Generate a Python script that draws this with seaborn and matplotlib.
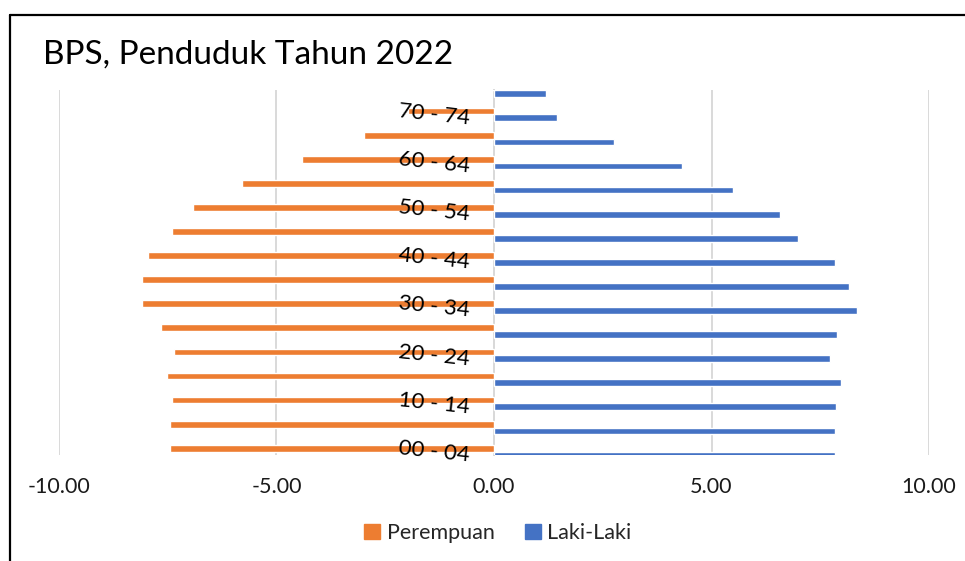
import matplotlib
matplotlib.use("Agg")
import matplotlib.pyplot as plt
import matplotlib.patches as mpatches
from matplotlib.lines import Line2D
import seaborn as sns
import pandas as pd

# ---- data (top to bottom) ----
age_groups = ["75+", "70 - 74", "65 - 69", "60 - 64", "55 - 59", "50 - 54", "45 - 49",
              "40 - 44", "35 - 39", "30 - 34", "25 - 29", "20 - 24", "15 - 19",
              "10 - 14", "05 - 09", "00 - 04"]
perempuan = [-2.02, -1.98, -2.99, -4.41, -5.79, -6.92, -7.40, -7.95, -8.09, -8.09,
             -7.66, -7.36, -7.52, -7.40, -7.45, -7.45]
laki_laki = [1.20, 1.45, 2.76, 4.32, 5.49, 6.57, 6.99, 7.84, 8.16, 8.34,
             7.89, 7.72, 7.98, 7.86, 7.84, 7.84]
shown_labels = ["70 - 74", "60 - 64", "50 - 54", "40 - 44", "30 - 34",
                "20 - 24", "10 - 14", "00 - 04"]
x_ticks = [-10, -5, 0, 5, 10]
title = "BPS, Penduduk Tahun 2022"
series_names = ["Perempuan", "Laki-Laki"]
colors = ["#ED7D31", "#4472C4"]

df = pd.concat([
    pd.DataFrame({"Kelompok": age_groups, "Nilai": perempuan, "Jenis": series_names[0]}),
    pd.DataFrame({"Kelompok": age_groups, "Nilai": laki_laki, "Jenis": series_names[1]}),
])

sns.set_theme(style="white")
plt.rcParams["font.family"] = ["Lato", "DejaVu Sans"]

W, H = 965, 561
fig = plt.figure(figsize=(W / 100, H / 100), dpi=100)
ax = fig.add_axes([59 / W, (H - 455) / H, (929 - 59) / W, (455 - 90) / H])

sns.barplot(data=df, x="Nilai", y="Kelompok", hue="Jenis", order=age_groups,
            hue_order=series_names, palette=colors, orient="h", width=0.56,
            dodge=True, ax=ax, legend=False, saturation=1, errorbar=None)

ax.set_xlim(-10, 10)
ax.set_ylim(len(age_groups) - 1 + 0.14, -0.015)
ax.set_xticks(x_ticks)
ax.set_xticklabels([f"{v:.2f}" for v in x_ticks], fontsize=15.5, color="#1a1a1a")
ax.set_yticks([])

# category labels next to the zero axis, drawn above the bars
for lab in shown_labels:
    ax.annotate(lab, xy=(0, age_groups.index(lab)), xytext=(-17, 0),
                textcoords="offset points", ha="right", va="center",
                rotation=-6, fontsize=16, color="black", zorder=5,
                annotation_clip=False)

ax.grid(axis="x", color="#D9D9D9", linewidth=1.4)
ax.grid(axis="y", visible=False)
ax.set_axisbelow(True)
for s in ["top", "right", "bottom"]:
    ax.spines[s].set_visible(False)
ax.spines["left"].set_position(("data", 0))
ax.spines["left"].set_color("#D9D9D9")
ax.spines["left"].set_linewidth(1.4)
ax.spines["left"].set_zorder(0.5)
ax.tick_params(axis="x", length=0, pad=16)
ax.tick_params(axis="y", length=0)
ax.set_xlabel("")
ax.set_ylabel("")

# title
fig.text(43 / W, (H - 64) / H, title, fontsize=24, color="black",
         ha="left", va="baseline")

# chart border (top & left only visible in crop)
fig.add_artist(Line2D([10 / W, 10 / W], [0, (H - 15) / H], transform=fig.transFigure,
                      color="black", linewidth=1.6))
fig.add_artist(Line2D([10 / W, 1], [(H - 15) / H, (H - 15) / H], transform=fig.transFigure,
                      color="black", linewidth=1.6))

handles = [mpatches.Patch(color=c, label=n) for c, n in zip(colors, series_names)]
fig.legend(handles=handles, loc="center", bbox_to_anchor=(498 / W, (H - 533) / H),
           ncol=2, frameon=False, fontsize=15.5, handlelength=0.75, handleheight=0.75,
           handletextpad=0.3, columnspacing=1.4)

fig.savefig("out.png", dpi=100)
